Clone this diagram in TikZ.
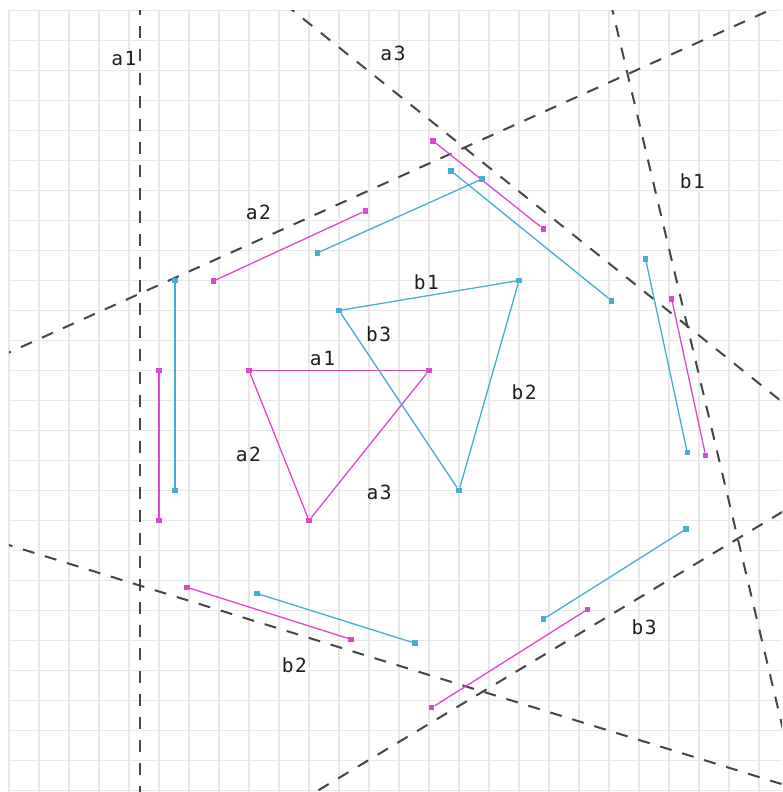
\documentclass[tikz,border=0pt]{standalone}
\usepackage{fontspec}
\usepackage{xcolor}
\usepackage{tikz}
\newfontfamily\lblfont[LetterSpace=8]{DejaVu Sans Mono}
\definecolor{gridgray}{HTML}{E8E8E8}
\definecolor{guidegray}{HTML}{454545}
\definecolor{pinkline}{HTML}{DD48CA}
\definecolor{cyanline}{HTML}{45AFCF}
\definecolor{textgray}{HTML}{1E1E1E}
\tikzset{
  vgrid/.style={line width=1.5pt,draw=gridgray},
  vguide/.style={line width=2pt,draw=guidegray,dash pattern=on 12pt off 11pt},
  vpinkseg/.style={line width=1.3pt,draw=pinkline},
  vcyanseg/.style={line width=1.3pt,draw=cyanline},
  vpinkdot/.style={rectangle,fill=pinkline,inner sep=0pt,minimum size=5.5pt},
  vcyandot/.style={rectangle,fill=cyanline,inner sep=0pt,minimum size=5.5pt},
  vlabel/.style={text=textgray,inner sep=0pt,font=\lblfont\fontsize{19.5}{22}\selectfont}
}
\begin{document}
\begin{tikzpicture}[x=30pt,y=-30pt]
  \useasboundingbox[fill=white] (-0.3,-0.35) rectangle (25.767,26.05);
  % grid
  \foreach \i in {0,...,25} \draw[vgrid] (\i,0) -- (\i,26.05);
  \foreach \j in {0,...,26} \draw[vgrid] (0,\j) -- (25.767,\j);
  % guide lines
  \coordinate (ga1s) at (4.38,-1);    \coordinate (ga1e) at (4.38,27);
  \coordinate (ga2s) at (-1,11.85);   \coordinate (ga2e) at (27,-0.75);
  \coordinate (ga3s) at (8,-1.17);    \coordinate (ga3e) at (27,14.03);
  \coordinate (gb1s) at (19.88,-1);   \coordinate (gb1e) at (26.52,27);
  \coordinate (gb2s) at (-1,17.51);   \coordinate (gb2e) at (27,26.17);
  \coordinate (gb3s) at (9,26.78);    \coordinate (gb3e) at (27,15.98);
  \begin{scope}
    \clip (0,0) rectangle (25.767,26.05);
    \draw[vguide] (ga1s) -- (ga1e);
    \draw[vguide] (ga2s) -- (ga2e);
    \draw[vguide] (ga3s) -- (ga3e);
    \draw[vguide] (gb1s) -- (gb1e);
    \draw[vguide] (gb2s) -- (gb2e);
    \draw[vguide] (gb3s) -- (gb3e);
  \end{scope}
  \node[vlabel] (lga1) at (3.83,1.6) {a1};
  \node[vlabel] (lga2) at (8.31,6.73) {a2};
  \node[vlabel] (lga3) at (12.8,1.42) {a3};
  \node[vlabel] (lgb1) at (22.78,5.68) {b1};
  \node[vlabel] (lgb2) at (9.51,21.83) {b2};
  \node[vlabel] (lgb3) at (21.17,20.55) {b3};
  % triangle a
  \node[vpinkdot] (ta1) at (8,12) {};
  \node[vpinkdot] (ta2) at (14,12) {};
  \node[vpinkdot] (ta3) at (10,17) {};
  \draw[vpinkseg] (ta1) -- (ta2);
  \draw[vpinkseg] (ta1) -- (ta3);
  \draw[vpinkseg] (ta2) -- (ta3);
  \node[vlabel] (la1) at (10.45,11.61) {a1};
  \node[vlabel] (la2) at (7.98,14.79) {a2};
  \node[vlabel] (la3) at (12.34,16.05) {a3};
  % triangle b
  \node[vcyandot] (tb1) at (11,10) {};
  \node[vcyandot] (tb2) at (17,9) {};
  \node[vcyandot] (tb3) at (15,16) {};
  \draw[vcyanseg] (tb1) -- (tb2);
  \draw[vcyanseg] (tb2) -- (tb3);
  \draw[vcyanseg] (tb1) -- (tb3);
  \node[vlabel] (lb1) at (13.91,9.05) {b1};
  \node[vlabel] (lb2) at (17.17,12.73) {b2};
  \node[vlabel] (lb3) at (12.32,10.8) {b3};
  % outer pink segments
  \node[vpinkdot] (m1s) at (5,12) {};       \node[vpinkdot] (m1e) at (5,17) {};
  \node[vpinkdot] (m2s) at (6.81,9.02) {};  \node[vpinkdot] (m2e) at (11.88,6.68) {};
  \node[vpinkdot] (m3s) at (14.14,4.35) {}; \node[vpinkdot] (m3e) at (17.81,7.28) {};
  \node[vpinkdot] (m4s) at (22.09,9.62) {}; \node[vpinkdot] (m4e) at (23.22,14.83) {};
  \node[vpinkdot] (m5s) at (14.09,23.24) {};\node[vpinkdot] (m5e) at (19.29,19.96) {};
  \node[vpinkdot] (m6s) at (5.94,19.23) {}; \node[vpinkdot] (m6e) at (11.4,20.96) {};
  \draw[vpinkseg] (m1s) -- (m1e);
  \draw[vpinkseg] (m2s) -- (m2e);
  \draw[vpinkseg] (m3s) -- (m3e);
  \draw[vpinkseg] (m4s) -- (m4e);
  \draw[vpinkseg] (m5s) -- (m5e);
  \draw[vpinkseg] (m6s) -- (m6e);
  % outer cyan segments
  \node[vcyandot] (c1s) at (5.53,9) {};     \node[vcyandot] (c1e) at (5.53,16) {};
  \node[vcyandot] (c2s) at (10.28,8.08) {}; \node[vcyandot] (c2e) at (15.76,5.62) {};
  \node[vcyandot] (c3s) at (14.74,5.35) {}; \node[vcyandot] (c3e) at (20.09,9.68) {};
  \node[vcyandot] (c4s) at (21.22,8.29) {}; \node[vcyandot] (c4e) at (22.61,14.74) {};
  \node[vcyandot] (c5s) at (17.81,20.29) {};\node[vcyandot] (c5e) at (22.56,17.29) {};
  \node[vcyandot] (c6s) at (8.26,19.43) {}; \node[vcyandot] (c6e) at (13.53,21.09) {};
  \draw[vcyanseg] (c1s) -- (c1e);
  \draw[vcyanseg] (c2s) -- (c2e);
  \draw[vcyanseg] (c3s) -- (c3e);
  \draw[vcyanseg] (c4s) -- (c4e);
  \draw[vcyanseg] (c5s) -- (c5e);
  \draw[vcyanseg] (c6s) -- (c6e);
\end{tikzpicture}
\end{document}
